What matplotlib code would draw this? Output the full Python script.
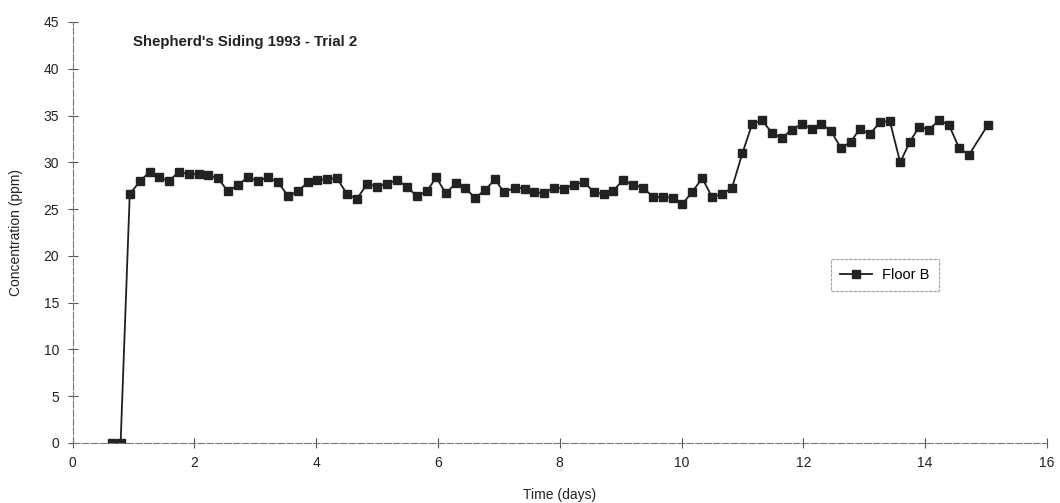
import matplotlib as mpl
mpl.use("Agg")
import matplotlib.pyplot as plt

# Floor B readings
time_days = [0.65, 0.79,
             0.94, 1.11, 1.27, 1.42, 1.58, 1.75, 1.91, 2.08, 2.22, 2.39,
             2.55, 2.72, 2.88, 3.04, 3.21, 3.37, 3.54, 3.70, 3.87, 4.02,
             4.18, 4.34, 4.51, 4.67, 4.84, 5.00, 5.16, 5.33, 5.49, 5.65,
             5.82, 5.97, 6.13, 6.30, 6.44, 6.61, 6.77, 6.94, 7.08, 7.27,
             7.43, 7.58, 7.74, 7.91, 8.07, 8.23, 8.40, 8.56, 8.73, 8.87,
             9.04, 9.20, 9.37, 9.53, 9.69, 9.86, 10.01, 10.17, 10.34, 10.50,
             10.67, 10.83, 11.00, 11.16, 11.32, 11.49, 11.65, 11.81, 11.98, 12.14,
             12.29, 12.45, 12.62, 12.78, 12.93, 13.09, 13.26, 13.42, 13.59, 13.75,
             13.90, 14.06, 14.23, 14.39, 14.56, 14.72, 15.03]
conc_ppm = [0.0, 0.0,
            26.6, 28.0, 29.0, 28.4, 28.0, 29.0, 28.7, 28.8, 28.6, 28.3,
            26.9, 27.6, 28.4, 28.0, 28.4, 27.9, 26.4, 26.9, 27.9, 28.1,
            28.2, 28.3, 26.6, 26.1, 27.7, 27.4, 27.7, 28.1, 27.4, 26.4,
            26.9, 28.4, 26.7, 27.8, 27.3, 26.2, 27.0, 28.2, 26.8, 27.3,
            27.2, 26.8, 26.7, 27.3, 27.2, 27.6, 27.9, 26.8, 26.6, 26.9,
            28.1, 27.6, 27.3, 26.3, 26.3, 26.2, 25.5, 26.8, 28.3, 26.3,
            26.6, 27.3, 31.0, 34.1, 34.5, 33.1, 32.6, 33.5, 34.1, 33.6,
            34.1, 33.4, 31.5, 32.2, 33.6, 33.0, 34.3, 34.4, 30.0, 32.2,
            33.8, 33.5, 34.5, 34.0, 31.5, 30.8, 34.0]

series_label = "Floor B"
title = "Shepherd's Siding 1993 - Trial 2"
x_ticks = list(range(0, 17, 2))
y_ticks = list(range(0, 46, 5))

plt.rcParams["font.family"] = ["Liberation Sans", "DejaVu Sans"]

fig = plt.figure(figsize=(10.6, 5.03), dpi=100)
ax = fig.add_axes([0.0684, 0.1193, 0.9193, 0.837])

ax.plot(time_days, conc_ppm, color="#1e1e1e", linewidth=1.3,
        marker="s", markersize=5.4, markerfacecolor="#222222",
        markeredgecolor="#222222", label=series_label)

ax.set_xlim(0, 16)
ax.set_ylim(0, 45)
ax.set_xticks(x_ticks)
ax.set_yticks(y_ticks)
ax.tick_params(direction="inout", length=7, width=0.8, color="#555555",
               labelsize=10, labelcolor="#222222", pad=6)

for side in ("top", "right"):
    ax.spines[side].set_visible(False)
for side in ("left", "bottom"):
    ax.spines[side].set_color("#777777")
    ax.spines[side].set_linewidth(0.8)
    ax.spines[side].set_linestyle((0, (6, 2)))

ax.set_xlabel("Time (days)", fontsize=10, color="#222222", labelpad=13)
ax.set_ylabel("Concentration (ppm)", fontsize=10, color="#222222", labelpad=15)

fig.text(133 / 1060, 1 - 42 / 503, title, fontsize=10.8, fontweight="bold",
         color="#222222", va="center", ha="left")

leg = ax.legend(loc="center", bbox_to_anchor=(885 / 1060, 1 - 275 / 503),
                bbox_transform=fig.transFigure, frameon=True, fancybox=False,
                fontsize=10.5, handlelength=2.2, borderpad=0.6,
                handletextpad=0.7)
leg.get_frame().set_edgecolor("#888888")
leg.get_frame().set_linestyle((0, (3, 1)))
leg.get_frame().set_linewidth(0.8)

fig.savefig("out.png", dpi=100)
